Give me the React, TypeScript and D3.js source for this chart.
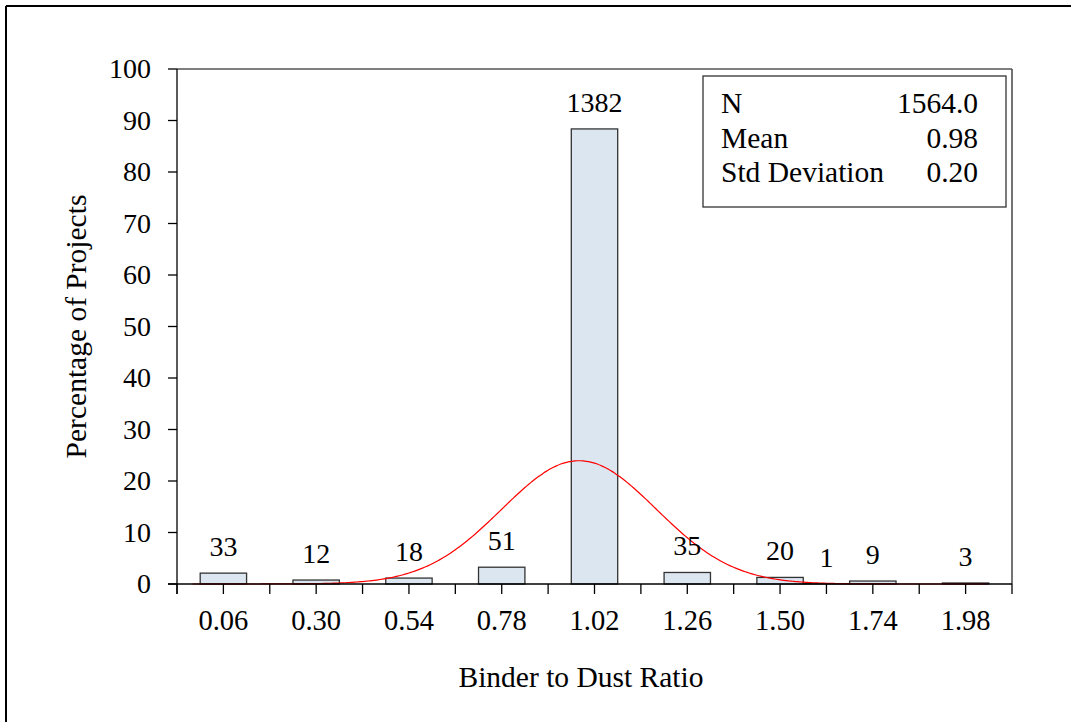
import React from 'react'
import * as d3 from 'd3'

// bin centres (Binder to Dust Ratio) and project counts per bin
const binCenters = [0.06, 0.3, 0.54, 0.78, 1.02, 1.26, 1.5, 1.62, 1.74, 1.98]
const binCounts = [33, 12, 18, 51, 1382, 35, 20, 1, 9, 3]
const xTickLabels = ['0.06', '0.30', '0.54', '0.78', '1.02', '1.26', '1.50', '1.74', '1.98']
const yTicks = [0, 10, 20, 30, 40, 50, 60, 70, 80, 90, 100]
const statLabels = ['N', 'Mean', 'Std Deviation']
const statValues = ['1564.0', '0.98', '0.20']

const N = 1564
const MEAN = 0.98
const SD = 0.2
const BIN_W = 0.12

const W = 1071
const H = 722
const margin = { left: 177, right: 59, top: 69, bottom: 138 }
const FONT = '"Liberation Serif", "Times New Roman", serif'

const App: React.FC = () => {
  const x = d3
    .scaleLinear()
    .domain([-0.06, 2.1])
    .range([margin.left, W - margin.right])
  const y = d3
    .scaleLinear()
    .domain([0, 100])
    .range([H - margin.bottom, margin.top])

  const pct = binCounts.map(c => (c / N) * 100)

  // minor tick marks at every bin edge
  const edgeTicks = d3.range(0, 19).map(i => -0.06 + i * BIN_W)

  // fitted normal curve, scaled to the bin width
  const curvePts = d3.range(-0.02, 2.04, 0.005).map(v => {
    const z = (v - MEAN) / SD
    const dens = Math.exp(-0.5 * z * z) / (SD * Math.sqrt(2 * Math.PI))
    return [v, dens * BIN_W * 100] as [number, number]
  })
  const line = d3
    .line<[number, number]>()
    .x(d => x(d[0]))
    .y(d => y(d[1]))
    .curve(d3.curveMonotoneX)

  const y0 = y(0)

  return (
    <svg
      width={W}
      height={H}
      style={{ position: 'absolute', left: 0, top: 0, background: '#fff' }}
      fontFamily={FONT}
    >
      {/* outer frame */}
      <line x1={6} x2={W} y1={6} y2={6} stroke="#000" strokeWidth={2} />
      <line x1={6} x2={6} y1={6} y2={H} stroke="#000" strokeWidth={2} />

      {/* plot area border (top / right) */}
      <line x1={x(-0.06)} x2={x(2.1)} y1={y(100)} y2={y(100)} stroke="#555" strokeWidth={1.5} />
      <line x1={x(2.1)} x2={x(2.1)} y1={y(100)} y2={y0} stroke="#444" strokeWidth={1.5} />

      {/* bars */}
      {binCenters.map((c, i) => (
        <rect
          key={'b' + i}
          x={x(c - BIN_W / 2)}
          y={y(pct[i])}
          width={x(c + BIN_W / 2) - x(c - BIN_W / 2)}
          height={y0 - y(pct[i])}
          fill="#dce6f1"
          stroke="#333"
          strokeWidth={1.3}
        />
      ))}

      {/* normal curve */}
      <path d={line(curvePts) || ''} fill="none" stroke="#ff0000" strokeWidth={1.2} />

      {/* count labels */}
      {binCenters.map((c, i) => (
        <text
          key={'l' + i}
          x={x(c)}
          y={y(pct[i]) - 17}
          textAnchor="middle"
          fontSize={28}
          fill="#000"
        >
          {binCounts[i]}
        </text>
      ))}

      {/* y axis */}
      <line x1={x(-0.06)} x2={x(-0.06)} y1={y(100)} y2={y0 + 10} stroke="#000" strokeWidth={1.3} />
      {yTicks.map(t => (
        <g key={'y' + t}>
          <line x1={x(-0.06) - 9} x2={x(-0.06)} y1={y(t)} y2={y(t)} stroke="#000" strokeWidth={1.3} />
          <text x={x(-0.06) - 26} y={y(t) + 9} textAnchor="end" fontSize={28}>
            {t}
          </text>
        </g>
      ))}

      {/* x axis */}
      <line x1={x(-0.06) - 9} x2={x(2.1)} y1={y0} y2={y0} stroke="#000" strokeWidth={1.3} />
      {edgeTicks.map((t, i) => (
        <line key={'xt' + i} x1={x(t)} x2={x(t)} y1={y0} y2={y0 + 10} stroke="#000" strokeWidth={1.3} />
      ))}
      {xTickLabels.map(l => (
        <text key={'xl' + l} x={x(+l)} y={y0 + 46} textAnchor="middle" fontSize={28.5}>
          {l}
        </text>
      ))}

      {/* axis titles */}
      <text x={581} y={687} textAnchor="middle" fontSize={29.5}>
        Binder to Dust Ratio
      </text>
      <text
        transform={`translate(86, ${(y(100) + y0) / 2}) rotate(-90)`}
        textAnchor="middle"
        fontSize={29.5}
      >
        Percentage of Projects
      </text>

      {/* stats box */}
      <rect x={703} y={76} width={303} height={131} fill="#fff" stroke="#333" strokeWidth={1.3} />
      {statLabels.map((s, i) => (
        <g key={'s' + i}>
          <text x={721} y={113 + i * 34.5} fontSize={29.5}>
            {s}
          </text>
          <text x={978} y={113 + i * 34.5} fontSize={29.5} textAnchor="end">
            {statValues[i]}
          </text>
        </g>
      ))}
    </svg>
  )
}

export default App
